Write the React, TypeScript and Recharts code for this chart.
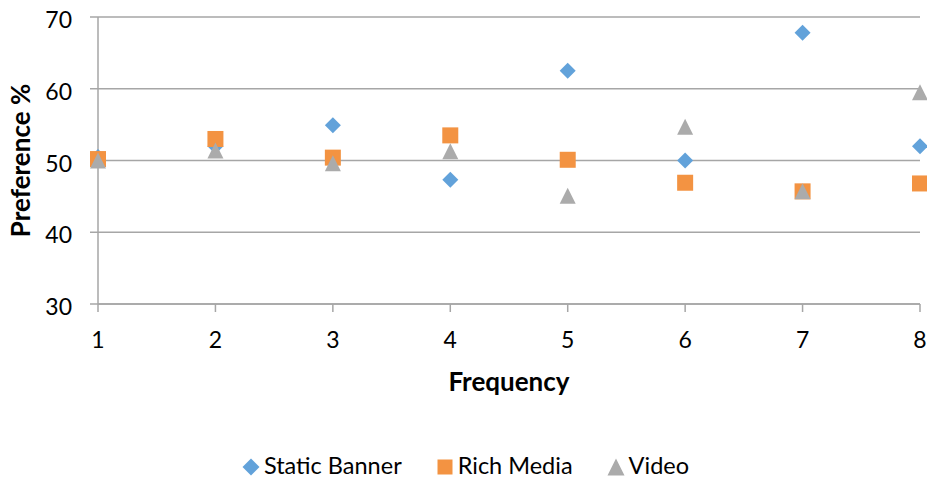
import React from "react";
import {
  ScatterChart,
  Scatter,
  XAxis,
  YAxis,
  CartesianGrid,
  Legend,
} from "recharts";

// Ad frequency (x) vs. preference share (%) for three creative formats
const frequencies = [1, 2, 3, 4, 5, 6, 7, 8];
const staticBanner = [50.5, 52.0, 54.9, 47.3, 62.5, 50.0, 67.8, 52.0];
const richMedia = [50.2, 53.0, 50.4, 53.5, 50.1, 46.9, 45.7, 46.8];
const video = [50.0, 51.4, 49.6, 51.3, 45.1, 54.7, 45.7, 59.5];

const xTicks = [1, 2, 3, 4, 5, 6, 7, 8];
const yTicks = [30, 40, 50, 60, 70];

const BLUE = "#62A2DA";
const ORANGE = "#F39342";
const GRAY = "#ABABAB";
const AXIS = "#A6A6A6";
const FONT = "Lato, 'Open Sans', sans-serif";

const toPoints = (values: number[]) =>
  frequencies.map((f, i) => ({ x: f, y: values[i] }));

const seriesList = [
  { name: "Static Banner", color: BLUE, marker: "diamond", data: toPoints(staticBanner) },
  { name: "Rich Media", color: ORANGE, marker: "square", data: toPoints(richMedia) },
  { name: "Video", color: GRAY, marker: "triangle", data: toPoints(video) },
];

function Marker({ kind, cx, cy, color, size }: { kind: string; cx: number; cy: number; color: string; size: number }) {
  const h = size / 2;
  if (kind === "diamond") {
    return (
      <polygon
        points={`${cx},${cy - h} ${cx + h},${cy} ${cx},${cy + h} ${cx - h},${cy}`}
        fill={color}
      />
    );
  }
  if (kind === "square") {
    return <rect x={cx - h} y={cy - h} width={size} height={size} fill={color} />;
  }
  return (
    <polygon
      points={`${cx},${cy - h} ${cx + h},${cy + h} ${cx - h},${cy + h}`}
      fill={color}
    />
  );
}

const makeShape = (kind: string, color: string, size: number) => (props: any) => {
  const { cx, cy } = props;
  if (cx == null || cy == null) return <g />;
  return <Marker kind={kind} cx={cx} cy={cy} color={color} size={size} />;
};

const XTick = (props: any) => {
  const { x, y, payload } = props;
  return (
    <text x={x} y={y + 17} textAnchor="middle" fill="#000" fontSize={23} fontFamily={FONT}>
      {payload.value}
    </text>
  );
};

const YTick = (props: any) => {
  const { x, y, payload } = props;
  return (
    <text x={x} y={y + 11} textAnchor="end" fill="#000" fontSize={23} fontFamily={FONT}>
      {payload.value}
    </text>
  );
};

const XTitle = (props: any) => {
  const vb = props.viewBox || {};
  return (
    <text
      x={vb.x + vb.width / 2}
      y={vb.y + 87}
      textAnchor="middle"
      fill="#000"
      fontSize={26}
      fontWeight="bold"
      fontFamily={FONT}
    >
      Frequency
    </text>
  );
};

const YTitle = (props: any) => {
  const vb = props.viewBox || {};
  const cx = vb.x + 30;
  const cy = vb.y + vb.height / 2;
  return (
    <text
      x={cx}
      y={cy}
      transform={`rotate(-90, ${cx}, ${cy})`}
      textAnchor="middle"
      fill="#000"
      fontSize={26}
      fontWeight="bold"
      fontFamily={FONT}
    >
      Preference %
    </text>
  );
};

const LegendContent = () => (
  <div
    style={{
      display: "flex",
      justifyContent: "center",
      alignItems: "center",
      height: 30,
      fontFamily: FONT,
      fontSize: 23.5,
      color: "#000",
      paddingLeft: 4,
    }}
  >
    {seriesList.map((s, i) => (
      <div
        key={s.name}
        style={{ display: "flex", alignItems: "center", marginLeft: i === 0 ? 0 : 34 }}
      >
        <svg width={18} height={18} style={{ marginRight: 4, marginTop: 3 }}>
          <Marker kind={s.marker} cx={9} cy={9} color={s.color} size={s.marker === "square" ? 15 : 17} />
        </svg>
        <span>{s.name}</span>
      </div>
    ))}
  </div>
);

export default function App() {
  return (
    <div style={{ position: "absolute", left: 0, top: 0, background: "#fff" }}>
      <ScatterChart
        width={927}
        height={481}
        margin={{ top: 17, right: 7, bottom: 0, left: 0 }}
      >
        <CartesianGrid horizontal vertical={false} stroke={AXIS} strokeWidth={1.5} />
        <XAxis
          type="number"
          dataKey="x"
          domain={[1, 8]}
          ticks={xTicks}
          interval={0}
          height={147}
          tickSize={8}
          tickMargin={19}
          stroke={AXIS}
          axisLine={{ stroke: AXIS, strokeWidth: 1.5 }}
          tickLine={{ stroke: AXIS, strokeWidth: 1.5 }}
          tick={<XTick />}
          label={(p: any) => <XTitle {...p} />}
        />
        <YAxis
          type="number"
          dataKey="y"
          domain={[30, 70]}
          ticks={yTicks}
          interval={0}
          width={98}
          tickSize={8}
          tickMargin={18}
          stroke={AXIS}
          axisLine={{ stroke: AXIS, strokeWidth: 1.5 }}
          tickLine={{ stroke: AXIS, strokeWidth: 1.5 }}
          tick={<YTick />}
          label={(p: any) => <YTitle {...p} />}
        />
        <Legend
          verticalAlign="bottom"
          height={30}
          content={<LegendContent />}
          wrapperStyle={{ position: "absolute", left: 0, top: 450, width: 927, height: 30 }}
        />
        {seriesList.map((s) => (
          <Scatter
            key={s.name}
            name={s.name}
            data={s.data}
            fill={s.color}
            isAnimationActive={false}
            shape={makeShape(s.marker, s.color, 16)}
          />
        ))}
      </ScatterChart>
    </div>
  );
}
